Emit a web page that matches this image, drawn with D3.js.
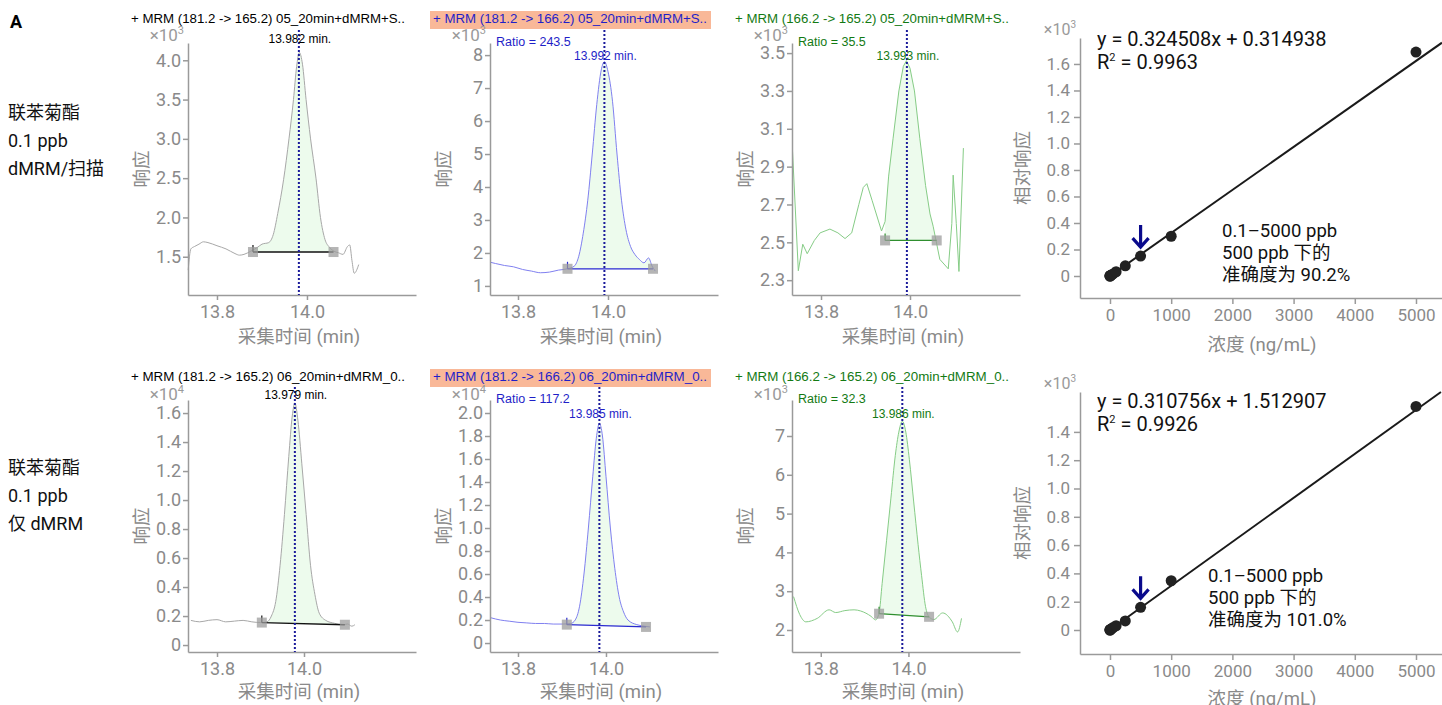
<!DOCTYPE html>
<html><head><meta charset="utf-8">
<script src="https://cdn.jsdelivr.net/npm/d3@7"></script>
<style>body{margin:0;background:#fff} svg{display:block}</style>
</head><body><svg id="c" width="1442" height="705"></svg>
<script>
// ---------------- DATA ----------------
const rowLabelsTop = ["联苯菊酯", "0.1 ppb", "dMRM/扫描"];
const rowLabelsBottom = ["联苯菊酯", "0.1 ppb", "仅 dMRM"];

const chromTitles = [
  "+ MRM (181.2 -> 165.2) 05_20min+dMRM+S..",
  "+ MRM (181.2 -> 166.2) 05_20min+dMRM+S..",
  "+ MRM (166.2 -> 165.2) 05_20min+dMRM+S..",
  "+ MRM (181.2 -> 165.2) 06_20min+dMRM_0..",
  "+ MRM (181.2 -> 166.2) 06_20min+dMRM_0..",
  "+ MRM (166.2 -> 165.2) 06_20min+dMRM_0.."
];
const retentionTimes = [13.982, 13.992, 13.993, 13.979, 13.985, 13.986];
const ratioValues = [null, "243.5", "35.5", null, "117.2", "32.3"];
const yExponents = [3, 3, 3, 4, 4, 3];
const chromXTicks = [13.8, 14.0];
const chromYTicks = [
  [1.5, 2.0, 2.5, 3.0, 3.5, 4.0],
  [1, 2, 3, 4, 5, 6, 7, 8],
  [2.3, 2.5, 2.7, 2.9, 3.1, 3.3, 3.5],
  [0, 0.2, 0.4, 0.6, 0.8, 1.0, 1.2, 1.4, 1.6],
  [0, 0.2, 0.4, 0.6, 0.8, 1.0, 1.2, 1.4, 1.6, 1.8, 2.0],
  [2, 3, 4, 5, 6, 7]
];

// traces: [acquisition time (min), response]
const trace1 = [[13.736,1.33],[13.742,1.6],[13.75,1.63],[13.76,1.66],[13.77,1.69],[13.78,1.68],[13.80,1.64],[13.82,1.6],[13.84,1.54],[13.85,1.52],[13.86,1.53],[13.875,1.57],[13.89,1.62],[13.90,1.66],[13.915,1.68],[13.925,1.78],[13.935,2.05],[13.948,2.48],[13.96,3.0],[13.97,3.5],[13.977,3.92],[13.983,4.1],[13.99,3.95],[13.998,3.5],[14.008,3.0],[14.02,2.5],[14.03,2.0],[14.04,1.72],[14.05,1.62],[14.06,1.57],[14.07,1.55],[14.08,1.53],[14.09,1.63],[14.095,1.65],[14.10,1.45],[14.105,1.29],[14.115,1.4]];
const trace2 = [[13.738,1.72],[13.75,1.68],[13.77,1.62],[13.79,1.58],[13.81,1.5],[13.83,1.45],[13.85,1.40],[13.87,1.42],[13.89,1.48],[13.91,1.52],[13.925,1.6],[13.935,1.9],[13.945,2.6],[13.955,3.6],[13.965,5.0],[13.975,6.5],[13.985,7.55],[13.992,7.8],[14.0,7.5],[14.01,6.6],[14.02,5.0],[14.03,3.6],[14.04,2.7],[14.05,2.2],[14.06,1.95],[14.07,1.8],[14.08,1.7],[14.09,1.85],[14.098,1.6],[14.105,1.45]];
const trace3 = [[13.736,2.98],[13.749,2.35],[13.759,2.49],[13.769,2.44],[13.785,2.51],[13.798,2.55],[13.82,2.57],[13.838,2.55],[13.854,2.52],[13.869,2.55],[13.885,2.7],[13.895,2.79],[13.903,2.81],[13.915,2.72],[13.936,2.56],[13.944,2.61],[13.952,2.85],[13.962,3.05],[13.975,3.3],[13.985,3.43],[13.992,3.46],[14.0,3.42],[14.01,3.3],[14.022,3.05],[14.035,2.8],[14.045,2.65],[14.052,2.585],[14.067,2.41],[14.086,2.36],[14.094,2.6],[14.097,2.855],[14.104,2.6],[14.11,2.346],[14.12,2.998]];
const trace4 = [[13.74,0.17],[13.76,0.16],[13.78,0.17],[13.80,0.175],[13.82,0.16],[13.84,0.165],[13.86,0.17],[13.88,0.16],[13.90,0.155],[13.915,0.16],[13.925,0.2],[13.935,0.3],[13.945,0.55],[13.955,0.9],[13.965,1.3],[13.973,1.58],[13.979,1.67],[13.986,1.55],[13.995,1.25],[14.005,0.9],[14.015,0.55],[14.025,0.35],[14.035,0.22],[14.05,0.17],[14.07,0.15],[14.09,0.14],[14.10,0.145],[14.11,0.13],[14.117,0.14]];
const trace5 = [[13.738,0.22],[13.76,0.2],[13.78,0.19],[13.80,0.18],[13.82,0.175],[13.84,0.17],[13.86,0.17],[13.88,0.165],[13.90,0.165],[13.92,0.17],[13.93,0.2],[13.94,0.32],[13.95,0.6],[13.96,1.0],[13.97,1.45],[13.978,1.78],[13.985,1.91],[13.992,1.8],[14.0,1.45],[14.01,1.0],[14.02,0.65],[14.03,0.4],[14.04,0.27],[14.05,0.2],[14.07,0.16],[14.09,0.145],[14.10,0.14]];
const trace6 = [[13.738,2.86],[13.752,2.4],[13.766,2.21],[13.792,2.3],[13.819,2.52],[13.834,2.45],[13.855,2.5],[13.876,2.52],[13.891,2.49],[13.915,2.35],[13.925,2.26],[13.933,2.44],[13.94,3.2],[13.95,4.3],[13.96,5.4],[13.97,6.5],[13.978,7.1],[13.986,7.38],[13.994,7.1],[14.002,6.4],[14.012,5.3],[14.022,4.2],[14.03,3.4],[14.039,2.6],[14.047,2.34],[14.058,2.27],[14.078,2.44],[14.1,2.21],[14.112,1.95],[14.121,2.3]];
const chromTraces = [trace1, trace2, trace3, trace4, trace5, trace6];
// integration baselines: [start time, start response, end time, end response]
const chromBaselines = [
  [13.880, 1.56, 14.059, 1.56],
  [13.910, 1.52, 14.100, 1.52],
  [13.944, 2.51, 14.060, 2.51],
  [13.903, 0.155, 14.094, 0.14],
  [13.911, 0.16, 14.091, 0.14],
  [13.933, 2.42, 14.047, 2.34]
];

// calibration curves (response ×10³ vs concentration ng/mL)
const calConc = [0.1, 0.5, 1, 5, 10, 25, 50, 100, 250, 500, 1000, 5000];
const calRespTop = [0.000, 0.000, 0.001, 0.002, 0.004, 0.008, 0.016, 0.032, 0.077, 0.150, 0.300, 1.690];
const calRespBottom = [0.000, 0.000, 0.001, 0.002, 0.004, 0.009, 0.017, 0.030, 0.064, 0.160, 0.348, 1.580];
const calFitTop = {slope: 0.324508, intercept: 0.314938, r2: "0.9963"};
const calFitBottom = {slope: 0.310756, intercept: 1.512907, r2: "0.9926"};
const calXTicks = [0, 1000, 2000, 3000, 4000, 5000];
const calYTicksTop = [0, 0.2, 0.4, 0.6, 0.8, 1.0, 1.2, 1.4, 1.6];
const calYTicksBottom = [0, 0.2, 0.4, 0.6, 0.8, 1.0, 1.2, 1.4];
const calNoteTop = ["0.1–5000 ppb", "500 ppb 下的", "准确度为 90.2%"];
const calNoteBottom = ["0.1–5000 ppb", "500 ppb 下的", "准确度为 101.0%"];
const markedConc = 500;

// ---------------- DRAWING ----------------
const svg = d3.select("#c");
const AX = "#9a9a9a", TXT = "#8a8a8a";
const CJK = "Roboto, 'Noto Sans CJK SC', sans-serif";
const ARIAL = "'Liberation Sans', Arial, sans-serif";

svg.append("text").attr("x", 10).attr("y", 28).text("A")
  .attr("font-family", "Roboto, sans-serif").attr("font-weight", "bold").attr("font-size", 18);
rowLabelsTop.forEach((t, i) => svg.append("text").attr("x", 8).attr("y", 119 + i * 28).text(t)
  .attr("font-family", CJK).attr("font-size", 18).attr("fill", "#111"));
rowLabelsBottom.forEach((t, i) => svg.append("text").attr("x", 8).attr("y", 474 + i * 28).text(t)
  .attr("font-family", CJK).attr("font-size", 18).attr("fill", "#111"));

const chromLayout = [
  {x0:188, y0:43, y1:295, xd:[13.7356,14.2423], yd:[1.013,4.22], ink:"#000000", line:"#a8a8a8", base:"#111", hl:false, fmt:".1f", smooth:true},
  {x0:490, y0:43, y1:295, xd:[13.7378,14.2444], yd:[0.725,8.367], ink:"#1f1fc8", line:"#8080f0", base:"#2a2ad0", hl:true, fmt:"d", smooth:true},
  {x0:792, y0:43, y1:295, xd:[13.7348,14.2472], yd:[2.2217,3.5533], ink:"#137a13", line:"#86cc86", base:"#2f8f2f", hl:false, fmt:".1f", smooth:false},
  {x0:188, y0:400, y1:652, xd:[13.7333,14.2575], yd:[-0.048,1.69], ink:"#000000", line:"#a8a8a8", base:"#111", hl:false, fmt:"z", smooth:true},
  {x0:490, y0:400, y1:652, xd:[13.7364,14.2546], yd:[-0.078,2.113], ink:"#1f1fc8", line:"#8080f0", base:"#2a2ad0", hl:true, fmt:"z", smooth:true},
  {x0:792, y0:400, y1:652, xd:[13.7344,14.2544], yd:[1.433,7.928], ink:"#137a13", line:"#86cc86", base:"#2f8f2f", hl:false, fmt:"d", smooth:true}
];
const W = 228;

function styleAxis(g, fs) {
  g.selectAll("path,line").attr("stroke", AX).attr("stroke-width", 1.5);
  g.selectAll("text").attr("fill", TXT).attr("font-family", "Roboto, sans-serif").attr("font-size", fs);
}
function fmtTick(kind) {
  if (kind === "d") return d3.format("d");
  if (kind === ".1f") return d3.format(".1f");
  return v => v === 0 ? "0" : d3.format(".1f")(v);
}

chromLayout.forEach((L, i) => {
  const g = svg.append("g");
  const x = d3.scaleLinear().domain(L.xd).range([L.x0, L.x0 + W]);
  const y = d3.scaleLinear().domain(L.yd).range([L.y1, L.y0]);
  const trace = chromTraces[i];
  const [b0, v0, b1, v1] = chromBaselines[i];
  const top = L.y0 < 100;
  const curve = L.smooth ? d3.curveMonotoneX : d3.curveLinear;

  // title
  const tY = top ? 23 : 381;
  if (L.hl) g.append("rect").attr("x", L.x0 - 60).attr("y", tY - 12).attr("width", 281).attr("height", 18).attr("fill", "#f9b898");
  g.append("text").attr("x", L.x0 - 57).attr("y", tY).text(chromTitles[i])
    .attr("font-family", ARIAL).attr("font-size", 12.5).attr("fill", L.ink)
    .attr("textLength", 274).attr("lengthAdjust", "spacingAndGlyphs");

  // exponent
  g.append("text").attr("x", L.x0 - 4).attr("y", top ? 41 : 400).attr("text-anchor", "end")
    .attr("font-family", "Roboto, sans-serif").attr("font-size", 17).attr("fill", "#9a9a9a")
    .html("×10<tspan dy='-7' font-size='11'>" + yExponents[i] + "</tspan>");

  // fill
  const baseAt = t => v0 + (v1 - v0) * (t - b0) / (b1 - b0);
  const interp = t => {
    for (let k = 1; k < trace.length; k++) {
      if (trace[k][0] >= t) {
        const [ta, va] = trace[k - 1], [tb, vb] = trace[k];
        return va + (vb - va) * (t - ta) / (tb - ta);
      }
    }
    return trace[trace.length - 1][1];
  };
  const fillPts = [[b0, interp(b0)]].concat(trace.filter(d => d[0] > b0 && d[0] < b1)).concat([[b1, interp(b1)]]);
  g.append("path").datum(fillPts)
    .attr("d", d3.area().x(d => x(d[0])).y1(d => y(d[1])).y0(d => y(baseAt(d[0]))).curve(curve))
    .attr("fill", "#ebfbeb").attr("fill-opacity", 0.9);

  // trace
  g.append("path").datum(trace)
    .attr("d", d3.line().x(d => x(d[0])).y(d => y(d[1])).curve(curve))
    .attr("fill", "none").attr("stroke", L.line).attr("stroke-width", 1);

  // baseline + markers
  g.append("line").attr("x1", x(b0)).attr("y1", y(v0)).attr("x2", x(b1)).attr("y2", y(v1))
    .attr("stroke", L.base).attr("stroke-width", 1.3);
  g.append("line").attr("x1", x(b0)).attr("y1", y(v0)).attr("x2", x(b0)).attr("y2", y(v0) - 7)
    .attr("stroke", L.base).attr("stroke-width", 1.2);
  [[b0, v0], [b1, v1]].forEach(([t, v]) => g.append("rect")
    .attr("x", x(t) - 5).attr("y", y(v) - 5).attr("width", 10).attr("height", 10)
    .attr("fill", "#9c9c9c").attr("fill-opacity", 0.75));

  // axes
  const gx = g.append("g").attr("transform", `translate(0,${L.y1})`)
    .call(d3.axisBottom(x).tickValues(chromXTicks).tickFormat(d3.format(".1f")).tickSize(5).tickSizeOuter(0).tickPadding(5));
  styleAxis(gx, 18);
  const gy = g.append("g").attr("transform", `translate(${L.x0},0)`)
    .call(d3.axisLeft(y).tickValues(chromYTicks[i]).tickFormat(fmtTick(L.fmt)).tickSize(5).tickSizeOuter(0).tickPadding(2));
  styleAxis(gy, 18);

  // retention time marker
  const rx = x(retentionTimes[i]);
  g.append("line").attr("x1", rx).attr("x2", rx).attr("y1", top ? 30 : 387).attr("y2", L.y1)
    .attr("stroke", "#1a1a9a").attr("stroke-width", 2).attr("stroke-dasharray", "2,2");

  const ratio = ratioValues[i];
  if (ratio) g.append("text").attr("x", L.x0 + 6).attr("y", top ? 46 : 403).text("Ratio = " + ratio)
    .attr("font-family", ARIAL).attr("font-size", 12.5).attr("fill", L.ink);
  const rtY = ratio ? (top ? 60 : 418) : (top ? 43 : 399);
  g.append("text").attr("x", rx + 1).attr("y", rtY).attr("text-anchor", "middle")
    .text(retentionTimes[i].toFixed(3) + " min.")
    .attr("font-family", ARIAL).attr("font-size", 12).attr("fill", L.ink);

  // axis titles
  g.append("text").attr("x", L.x0 + 111).attr("y", top ? 343 : 698).attr("text-anchor", "middle")
    .text("采集时间 (min)").attr("font-family", CJK).attr("font-size", 18.5).attr("fill", TXT);
  const cy = (L.y0 + L.y1) / 2;
  g.append("text").attr("transform", `translate(${L.x0 - 40},${cy}) rotate(-90)`).attr("text-anchor", "middle")
    .text("响应").attr("font-family", CJK).attr("font-size", 18.5).attr("fill", TXT);
});

// calibration panels
const calLayout = [
  {y0:38, y1:298, yd:[-0.166,1.796], resp:calRespTop, fit:calFitTop, ticks:calYTicksTop, note:calNoteTop, noteX:1222, noteY:237, eqY:46, xlabY:351},
  {y0:392, y1:654, yd:[-0.1696,1.682], resp:calRespBottom, fit:calFitBottom, ticks:calYTicksBottom, note:calNoteBottom, noteX:1208, noteY:582, eqY:408, xlabY:705}
];
calLayout.forEach(C => {
  const g = svg.append("g");
  const x = d3.scaleLinear().domain([-490, 5425]).range([1080, 1442]);
  const y = d3.scaleLinear().domain(C.yd).range([C.y1, C.y0]);

  const gx = g.append("g").attr("transform", `translate(0,${C.y1})`)
    .call(d3.axisBottom(x).tickValues(calXTicks).tickFormat(d3.format("d")).tickSize(6).tickSizeOuter(0).tickPadding(5));
  styleAxis(gx, 17);
  const gy = g.append("g").attr("transform", "translate(1080,0)")
    .call(d3.axisLeft(y).tickValues(C.ticks).tickFormat(v => v === 0 ? "0" : d3.format(".1f")(v)).tickSize(6).tickSizeOuter(0).tickPadding(4));
  styleAxis(gy, 17);

  g.append("text").attr("x", 1076).attr("y", C.y0 - 3).attr("text-anchor", "end")
    .attr("font-family", "Roboto, sans-serif").attr("font-size", 16).attr("fill", "#9a9a9a")
    .html("×10<tspan dy='-7' font-size='10'>3</tspan>");

  // fit line
  const f = c => (C.fit.slope * c + C.fit.intercept) / 1000;
  const xEnd = Math.min(x.domain()[1], (C.yd[1] * 1000 - C.fit.intercept) / C.fit.slope);
  g.append("line").attr("x1", x(0)).attr("y1", y(f(0))).attr("x2", x(xEnd)).attr("y2", y(f(xEnd)))
    .attr("stroke", "#1a1a1a").attr("stroke-width", 2);

  g.selectAll("circle.p").data(calConc.map((c, k) => [c, C.resp[k]])).enter().append("circle")
    .attr("cx", d => x(d[0])).attr("cy", d => y(d[1])).attr("r", 5.5).attr("fill", "#222");

  // arrow at marked concentration
  const mk = calConc.indexOf(markedConc);
  const ax = x(markedConc), tip = y(C.resp[mk]) - 9;
  g.append("path").attr("d", `M${ax},${tip - 22}L${ax},${tip}M${ax - 8},${tip - 9}L${ax},${tip}L${ax + 8},${tip - 9}`)
    .attr("fill", "none").attr("stroke", "#0a0a8c").attr("stroke-width", 3.2);

  // equation
  g.append("text").attr("x", 1097).attr("y", C.eqY)
    .text(`y = ${C.fit.slope}x + ${C.fit.intercept}`)
    .attr("font-family", "Roboto, sans-serif").attr("font-size", 20).attr("fill", "#111");
  g.append("text").attr("x", 1097).attr("y", C.eqY + 23)
    .html(`R<tspan dy='-8' font-size='11'>2</tspan><tspan dy='8'> = ${C.fit.r2}</tspan>`)
    .attr("font-family", "Roboto, sans-serif").attr("font-size", 20).attr("fill", "#111");

  C.note.forEach((t, k) => g.append("text").attr("x", C.noteX).attr("y", C.noteY + k * 22).text(t)
    .attr("font-family", CJK).attr("font-size", 18.5).attr("fill", "#111"));

  g.append("text").attr("x", 1262).attr("y", C.xlabY).attr("text-anchor", "middle")
    .text("浓度 (ng/mL)").attr("font-family", CJK).attr("font-size", 18.5).attr("fill", TXT);
  g.append("text").attr("transform", `translate(1029,${(C.y0 + C.y1) / 2}) rotate(-90)`).attr("text-anchor", "middle")
    .text("相对响应").attr("font-family", CJK).attr("font-size", 18.5).attr("fill", TXT);
});
</script></body></html>
